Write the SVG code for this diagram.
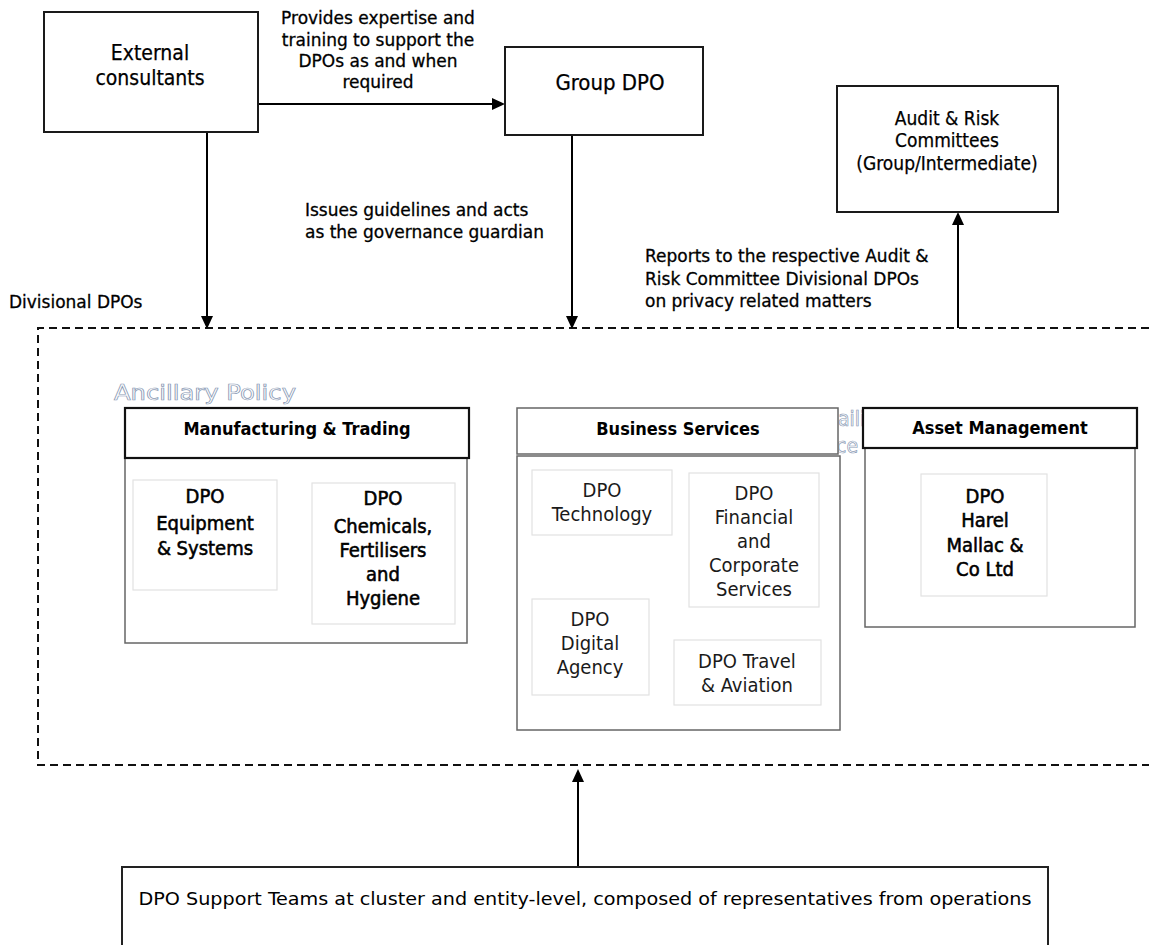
<svg xmlns="http://www.w3.org/2000/svg" width="1149" height="945" viewBox="0 0 1149 945">
<style>
text{font-family:"DejaVu Sans Condensed","DejaVu Sans",sans-serif;font-stretch:condensed;fill:#000}
.c{text-anchor:middle}
.lbl{font-family:"DejaVu Sans",sans-serif;font-stretch:normal;font-size:17px;stroke:#000;stroke-width:0.3}
.big{font-size:21px;stroke:#000;stroke-width:0.25}
.hdr{font-size:18px;font-weight:bold}
.sb{font-size:20px;stroke:#000;stroke-width:0.55}
.rg{font-size:20px;fill:#1a1a1a}
.box{fill:#fff;stroke:#1a1a1a;stroke-width:2}
.hbox{fill:#fff;stroke:#111;stroke-width:2.2}
.gbox{fill:#fff;stroke:#666;stroke-width:1.5}
.ibox{fill:#fff;stroke:#e2e2e2;stroke-width:1.2}
.con{stroke:#000;stroke-width:2;fill:none}
.head{fill:#000}
.hollow{fill:#fff;stroke:#8a9ab5;stroke-width:0.7;font-size:21px}
</style>
<rect width="1149" height="945" fill="#fff"/>

<g id="divisional-frame">
<path d="M1149,328 H38 V765 H1149" fill="none" stroke="#111" stroke-width="2" stroke-dasharray="8 5"/>
<text x="9" y="308" class="lbl">Divisional DPOs</text>
<text x="114" y="400" class="hollow" textLength="182" lengthAdjust="spacingAndGlyphs">Ancillary Policy</text>
<text x="838" y="426" class="hollow">aili</text>
<text x="836" y="453" class="hollow">ce</text>
</g>

<g id="connectors">
<line x1="258" y1="104" x2="494" y2="104" class="con"/>
<path d="M492,98 L492,110 L505,104 z" class="head"/>
<line x1="207" y1="132" x2="207" y2="318" class="con"/>
<path d="M201,316 L213,316 L207,329 z" class="head"/>
<line x1="572" y1="135" x2="572" y2="318" class="con"/>
<path d="M566,316 L578,316 L572,329 z" class="head"/>
<line x1="958" y1="328" x2="958" y2="222" class="con"/>
<path d="M952,225 L964,225 L958,212 z" class="head"/>
<line x1="578" y1="867" x2="578" y2="780" class="con"/>
<path d="M572,782 L584,782 L578,769 z" class="head"/>
<text x="378" y="24" class="lbl c">Provides expertise and</text>
<text x="378" y="46" class="lbl c">training to support the</text>
<text x="378" y="67" class="lbl c">DPOs as and when</text>
<text x="378" y="88" class="lbl c">required</text>
<text x="305" y="216" class="lbl">Issues guidelines and acts</text>
<text x="305" y="238" class="lbl">as the governance guardian</text>
<text x="645" y="262" class="lbl">Reports to the respective Audit &amp;</text>
<text x="645" y="285" class="lbl">Risk Committee Divisional DPOs</text>
<text x="645" y="307" class="lbl">on privacy related matters</text>
</g>

<g id="external-consultants">
<rect x="44" y="12" width="214" height="120" class="box"/>
<text x="150" y="60" class="big c">External</text>
<text x="150" y="85" class="big c">consultants</text>
</g>

<g id="group-dpo">
<rect x="505" y="47" width="198" height="88" class="box"/>
<text x="610" y="90" class="big c" style="font-size:22px">Group DPO</text>
</g>

<g id="audit-risk">
<rect x="837" y="86" width="221" height="126" class="box"/>
<text x="947" y="125" class="big c" style="font-size:19px">Audit &amp; Risk</text>
<text x="947" y="147" class="big c" style="font-size:19px">Committees</text>
<text x="947" y="170" class="big c" style="font-size:19px">(Group/Intermediate)</text>
</g>

<g id="manufacturing-trading">
<rect x="125" y="458" width="342" height="185" class="gbox"/>
<rect x="125" y="408" width="344" height="50" class="hbox"/>
<text x="297" y="435" class="hdr c">Manufacturing &amp; Trading</text>
</g>
<g id="dpo-equipment">
<rect x="133" y="480" width="144" height="110" class="ibox"/>
<text x="205" y="503" class="sb c">DPO</text>
<text x="205" y="530" class="sb c">Equipment</text>
<text x="205" y="555" class="sb c">&amp; Systems</text>
</g>
<g id="dpo-chemicals">
<rect x="312" y="483" width="143" height="141" class="ibox"/>
<text x="383" y="505" class="sb c">DPO</text>
<text x="383" y="533" class="sb c">Chemicals,</text>
<text x="383" y="557" class="sb c">Fertilisers</text>
<text x="383" y="581" class="sb c">and</text>
<text x="383" y="605" class="sb c">Hygiene</text>
</g>

<g id="business-services">
<rect x="517" y="456" width="323" height="274" class="gbox"/>
<rect x="517" y="408" width="321" height="46" class="gbox"/>
<text x="678" y="435" class="hdr c">Business Services</text>
</g>
<g id="dpo-technology">
<rect x="532" y="470" width="140" height="65" class="ibox"/>
<text x="602" y="497" class="rg c">DPO</text>
<text x="602" y="521" class="rg c">Technology</text>
</g>
<g id="dpo-financial">
<rect x="689" y="473" width="130" height="134" class="ibox"/>
<text x="754" y="500" class="rg c">DPO</text>
<text x="754" y="524" class="rg c">Financial</text>
<text x="754" y="548" class="rg c">and</text>
<text x="754" y="572" class="rg c">Corporate</text>
<text x="754" y="596" class="rg c">Services</text>
</g>
<g id="dpo-digital">
<rect x="532" y="599" width="117" height="96" class="ibox"/>
<text x="590" y="626" class="rg c">DPO</text>
<text x="590" y="650" class="rg c">Digital</text>
<text x="590" y="674" class="rg c">Agency</text>
</g>
<g id="dpo-travel">
<rect x="674" y="640" width="147" height="65" class="ibox"/>
<text x="747" y="668" class="rg c">DPO Travel</text>
<text x="747" y="692" class="rg c">&amp; Aviation</text>
</g>

<g id="asset-management">
<rect x="865" y="448" width="270" height="179" class="gbox"/>
<rect x="863" y="408" width="274" height="40" class="hbox"/>
<text x="1000" y="434" class="hdr c">Asset Management</text>
</g>
<g id="dpo-harel">
<rect x="921" y="474" width="126" height="122" class="ibox"/>
<text x="985" y="503" class="sb c">DPO</text>
<text x="985" y="527" class="sb c">Harel</text>
<text x="985" y="552" class="sb c">Mallac &amp;</text>
<text x="985" y="576" class="sb c">Co Ltd</text>
</g>

<g id="dpo-support-teams">
<rect x="122" y="867" width="926" height="90" class="gbox" style="stroke:#222;stroke-width:2"/>
<text x="585" y="905" class="c" style="font-size:18px" textLength="893" lengthAdjust="spacingAndGlyphs">DPO Support Teams at cluster and entity-level, composed of representatives from operations</text>
</g>
</svg>
